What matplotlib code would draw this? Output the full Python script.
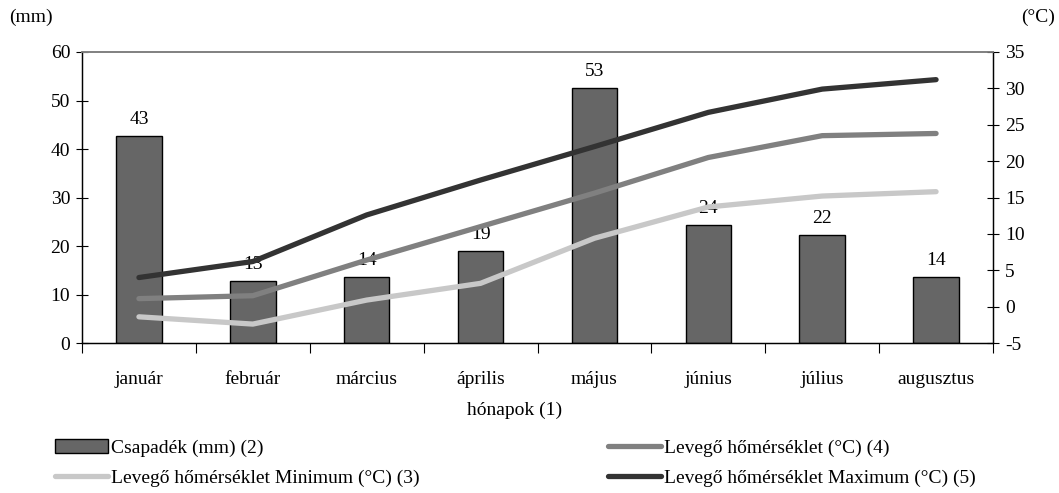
import numpy as np
import matplotlib.pyplot as plt
from matplotlib.lines import Line2D
from matplotlib.patches import Patch

plt.rcParams['font.family'] = ['Liberation Serif', 'DejaVu Serif']
plt.rcParams['axes.unicode_minus'] = False

months = ["január", "február", "március", "április", "május", "június", "július", "augusztus"]
precip_mm = [42.6, 12.7, 13.6, 19.0, 52.6, 24.3, 22.2, 13.6]
temp_mean = [1.1, 1.5, 6.4, 11.0, 15.6, 20.5, 23.5, 23.8]
temp_min = [-1.4, -2.4, 0.9, 3.2, 9.4, 13.7, 15.2, 15.8]
temp_max = [4.0, 6.2, 12.6, 17.4, 22.0, 26.7, 29.9, 31.2]

FS = 14
W, H = 1059, 493
fig = plt.figure(figsize=(W / 100, H / 100), dpi=100)
ax = fig.add_axes([82 / W, 1 - 343 / H, (993 - 82) / W, (343 - 52) / H])
ax2 = ax.twinx()

x = np.arange(len(months))
ax.bar(x, precip_mm, width=0.4, color="#666666", edgecolor="black", linewidth=1.0, zorder=2)
for xi, v in zip(x, precip_mm):
    ax.annotate(f"{v:.0f}", (xi, v), xytext=(0, 6), textcoords="offset points",
                ha="center", va="bottom", fontsize=FS)

lw = 3.8
ax2.plot(x, temp_min, color="#c8c8c8", lw=lw, solid_capstyle="round", solid_joinstyle="round")
ax2.plot(x, temp_mean, color="#808080", lw=lw, solid_capstyle="round", solid_joinstyle="round")
ax2.plot(x, temp_max, color="#333333", lw=lw, solid_capstyle="round", solid_joinstyle="round")

ax.set_xlim(-0.5, len(months) - 0.5)
ax.set_ylim(0, 60)
ax.set_yticks(range(0, 61, 10))
ax2.set_ylim(-5, 35)
ax2.set_yticks(range(-5, 36, 5))

ax.set_xticks(x)
ax.set_xticklabels(months, fontsize=FS)
ax.set_xticks(np.arange(-0.5, len(months), 1), minor=True)
ax.tick_params(axis="x", which="major", length=0, pad=20)
ax.tick_params(axis="x", which="minor", length=7, direction="out", width=0.8)
ax.tick_params(axis="y", labelsize=FS, direction="inout", length=9, width=0.8, pad=4)
ax2.tick_params(axis="y", labelsize=FS, direction="inout", length=9, width=0.8, pad=4)

for a in (ax, ax2):
    a.spines["top"].set_color("#808080")
    a.spines["top"].set_linewidth(1.2)
    for s in ("left", "right", "bottom"):
        a.spines[s].set_linewidth(0.9)

fig.text(9 / W, 1 - 17 / H, "(mm)", fontsize=FS, va="center", ha="left")
fig.text(1055 / W, 1 - 17 / H, "(°C)", fontsize=FS, va="center", ha="right")
fig.text(515 / W, 1 - 410 / H, "hónapok (1)", fontsize=FS, va="center", ha="center")

leg_kw = dict(frameon=False, fontsize=FS, handlelength=2.7, handletextpad=0.2,
              labelspacing=0.65, borderpad=0, borderaxespad=0)
left_handles = [Patch(facecolor="#666666", edgecolor="black", linewidth=1.0),
                Line2D([], [], color="#c8c8c8", lw=lw, solid_capstyle="round")]
left_labels = ["Csapadék (mm) (2)", "Levegő hőmérséklet Minimum (°C) (3)"]
right_handles = [Line2D([], [], color="#808080", lw=lw, solid_capstyle="round"),
                 Line2D([], [], color="#333333", lw=lw, solid_capstyle="round")]
right_labels = ["Levegő hőmérséklet (°C) (4)", "Levegő hőmérséklet Maximum (°C) (5)"]

fig.legend(left_handles, left_labels, loc="upper left",
           bbox_to_anchor=(55 / W, 1 - 439 / H), **leg_kw)
fig.legend(right_handles, right_labels, loc="upper left",
           bbox_to_anchor=(608 / W, 1 - 439 / H), **leg_kw)

fig.savefig("out.png", dpi=100)
